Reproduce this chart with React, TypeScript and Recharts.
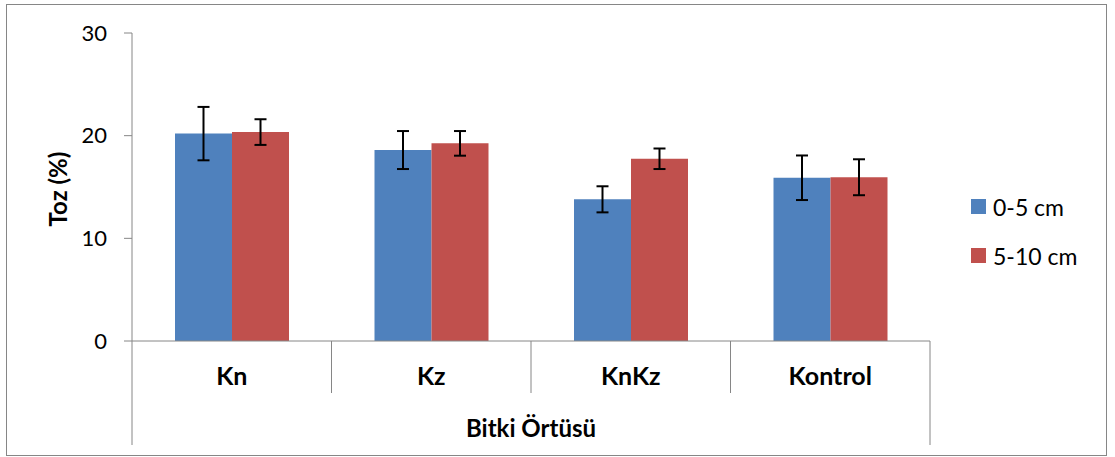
import React from "react"
import { BarChart, Bar, XAxis, YAxis, ErrorBar } from "recharts"

const categories = ["Kn", "Kz", "KnKz", "Kontrol"]
const depth1 = [20.2, 18.6, 13.8, 15.9]
const depth1Err = [2.6, 1.85, 1.27, 2.17]
const depth2 = [20.35, 19.25, 17.75, 15.95]
const depth2Err = [1.25, 1.2, 1.0, 1.75]
const seriesNames = ["0-5 cm", "5-10 cm"]
const seriesColors = ["#4F81BD", "#C0504D"]
const yTicks = [0, 10, 20, 30]

const data = categories.map((cat, i) => ({
  cat,
  d1: depth1[i],
  e1: depth1Err[i],
  d2: depth2[i],
  e2: depth2Err[i],
}))

const FONT = "Lato, 'Open Sans', sans-serif"
const AXIS = "#868686"

function CatTick(props: any) {
  const { x, y, payload, index, width } = props
  const half = payload && payload.offset ? payload.offset : width / categories.length / 2
  const last = index === categories.length - 1
  return (
    <g>
      <line x1={x - half} y1={y} x2={x - half} y2={y + (index === 0 ? 104 : 52)} stroke={AXIS} />
      {last && <line x1={x + half} y1={y} x2={x + half} y2={y + 104} stroke={AXIS} />}
      <text
        x={x}
        y={y + 34}
        textAnchor="middle"
        dominantBaseline="central"
        fontFamily={FONT}
        fontWeight="bold"
        fontSize={25}
        fill="#000"
      >
        {payload.value}
      </text>
    </g>
  )
}

export default function App() {
  return (
    <div style={{ position: "absolute", left: 0, top: 0, width: 1115, height: 457, background: "#fff" }}>
      <div
        style={{
          position: "absolute",
          left: 6,
          top: 4,
          width: 1101,
          height: 452,
          border: `1px solid ${AXIS}`,
          boxSizing: "border-box",
          pointerEvents: "none",
        }}
      />
      <BarChart
        width={1115}
        height={457}
        data={data}
        margin={{ top: 33, right: 185, left: 0, bottom: 12 }}
        barGap={0}
        barSize={57}
      >
        <XAxis
          dataKey="cat"
          height={104}
          interval={0}
          axisLine={{ stroke: AXIS }}
          tickLine={false}
          tickSize={0}
          tickMargin={0}
          tick={<CatTick />}
          label={{
            content: (p: any) => {
              const vb = p.viewBox || {}
              return (
                <text
                  x={vb.x + vb.width / 2}
                  y={vb.y + 86}
                  textAnchor="middle"
                  dominantBaseline="central"
                  fontFamily={FONT}
                  fontWeight="bold"
                  fontSize={24}
                  fill="#000"
                >
                  Bitki Örtüsü
                </text>
              )
            },
          }}
        />
        <YAxis
          width={132}
          domain={[0, 30]}
          ticks={yTicks}
          interval={0}
          axisLine={{ stroke: AXIS }}
          tickLine={{ stroke: AXIS }}
          tickSize={8}
          tickMargin={17}
          tick={{ fill: "#000", fontSize: 22, fontFamily: FONT }}
          label={{
            content: (p: any) => {
              const vb = p.viewBox || {}
              const cy = vb.y + vb.height / 2 + 2
              return (
                <text
                  x={57}
                  y={cy}
                  transform={`rotate(-90 57 ${cy})`}
                  textAnchor="middle"
                  dominantBaseline="central"
                  fontFamily={FONT}
                  fontWeight="bold"
                  fontSize={24}
                  fill="#000"
                >
                  Toz (%)
                </text>
              )
            },
          }}
        />
        <Bar dataKey="d1" name={seriesNames[0]} fill={seriesColors[0]} isAnimationActive={false}>
          <ErrorBar dataKey="e1" width={6} strokeWidth={2} stroke="#000" direction="y" isAnimationActive={false} />
        </Bar>
        <Bar dataKey="d2" name={seriesNames[1]} fill={seriesColors[1]} isAnimationActive={false}>
          <ErrorBar dataKey="e2" width={6} strokeWidth={2} stroke="#000" direction="y" isAnimationActive={false} />
        </Bar>
      </BarChart>
      {seriesNames.map((name, i) => (
        <div
          key={name}
          style={{
            position: "absolute",
            left: 971,
            top: 193 + i * 49,
            height: 27,
            display: "flex",
            alignItems: "center",
            fontFamily: FONT,
            fontSize: 23,
            color: "#000",
            whiteSpace: "nowrap",
          }}
        >
          <span style={{ display: "inline-block", width: 15, height: 15, background: seriesColors[i], marginRight: 7 }} />
          {name}
        </div>
      ))}
    </div>
  )
}
